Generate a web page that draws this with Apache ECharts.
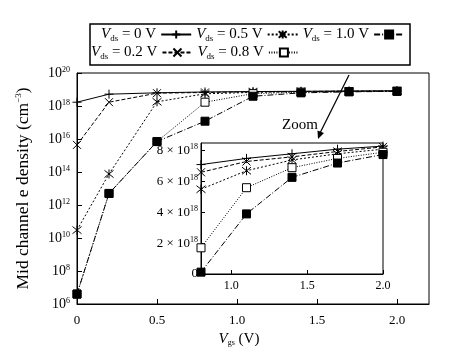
<!DOCTYPE html>
<html>
<head>
<meta charset="utf-8">
<script src="https://cdn.jsdelivr.net/npm/echarts@6/dist/echarts.min.js"></script>
<style>
html, body {margin: 0; padding: 0; background: #fff;}
#main {width: 456px; height: 353px;}
</style>
</head>
<body>
<div id="main"></div>
<script>
// gate voltage sweep (V)
const vgs = [0, 0.2, 0.5, 0.8, 1.1, 1.4, 1.7, 2.0];
// mid channel electron density (cm^-3), one list per drain voltage
const vds0 = [1.7e18, 5.2e18, 6.3e18, 7.1e18, 7.5e18, 7.8e18, 8.1e18, 8.3e18];
const vds02 = [4.4e15, 1.7e18, 6.0e18, 6.6e18, 7.3e18, 7.6e18, 7.95e18, 8.25e18];
const vds05 = [3e10, 7.6e13, 1.8e18, 5.5e18, 6.7e18, 7.4e18, 7.8e18, 8.1e18];
const vds08 = [4e6, 5e12, 7e15, 1.7e18, 5.6e18, 6.9e18, 7.5e18, 7.9e18];
const vds10 = [4e6, 5e12, 7e15, 1.2e17, 3.9e18, 6.27e18, 7.2e18, 7.75e18];
const vdsLabels = ['0', '0.2', '0.5', '0.8', '1.0'];
const insetFrom = 3; // zoomed part starts at vgs = 0.8
const insetTicks = [1.0, 1.5, 2.0];

const FONT = 'Liberation Serif';
const sup = {fontSize: 8, fontFamily: FONT, padding: [0, 0, 7, 0]};

const looks = [
    {symbol: 'path://M0,5L10,5M5,0L5,10', size: 9, type: 'solid', fill: '#000'},
    {symbol: 'path://M0,0L10,10M10,0L0,10', size: 8, type: [4, 2], fill: '#000'},
    {symbol: 'path://M1,1L9,9M9,1L1,9M5,0L5,10', size: 9, type: [2, 2], fill: '#000'},
    {symbol: 'rect', size: 8, type: [1, 1.5], fill: '#fff'},
    {symbol: 'rect', size: 8, type: [6, 2, 1, 2], fill: '#000'}
];
const allData = [vds0, vds02, vds05, vds08, vds10];

const series = [];
allData.forEach(function (vals, i) {
    const lk = looks[i];
    const base = {
        name: vdsLabels[i],
        type: 'line',
        symbol: lk.symbol,
        symbolSize: lk.size,
        lineStyle: {color: '#000', width: 1, type: lk.type},
        itemStyle: {color: lk.fill, borderColor: '#000', borderWidth: 1},
        animation: false
    };
    series.push(Object.assign({}, base, {
        xAxisIndex: 0, yAxisIndex: 0, z: 2 + i,
        data: vgs.map((x, k) => [x, vals[k]])
    }));
    series.push(Object.assign({}, base, {
        xAxisIndex: 1, yAxisIndex: 1, z: 20 + i,
        data: vgs.slice(insetFrom).map((x, k) => [x, vals[k + insetFrom]])
    }));
});

const legendText = {
    fontFamily: FONT, fontSize: 15, color: '#000',
    rich: {
        v: {fontFamily: FONT, fontSize: 15, fontStyle: 'italic'},
        s: {fontFamily: FONT, fontSize: 9, padding: [8, 0, 0, 0]},
        t: {fontFamily: FONT, fontSize: 15}
    }
};
function legendFmt(name) {
    return '{v|V}{s|ds}{t| = ' + name + ' V}';
}
const legendBase = {
    align: 'right', orient: 'horizontal', itemWidth: 30, itemHeight: 10,
    itemGap: 4, formatter: legendFmt, textStyle: legendText,
    selectedMode: false, padding: 0
};

const axisBlack = {lineStyle: {color: '#000', width: 1}};

const option = {
    backgroundColor: '#fff',
    textStyle: {fontFamily: FONT, color: '#000'},
    legend: [
        Object.assign({}, legendBase, {left: 101, top: 27, data: ['0', '0.5', '1.0']}),
        Object.assign({}, legendBase, {left: 91, top: 45, data: ['0.2', '0.8']})
    ],
    grid: [
        {left: 77, right: 27, top: 73, bottom: 49, show: true, borderColor: '#000', borderWidth: 1, backgroundColor: '#fff'},
        {left: 201, right: 73, top: 143, bottom: 79, show: true, borderColor: '#000', borderWidth: 1, backgroundColor: '#fff', z: 10}
    ],
    xAxis: [
        {
            gridIndex: 0, type: 'value', min: 0, max: 2.2, interval: 0.5,
            axisLine: axisBlack,
            axisTick: {inside: true, length: 5, lineStyle: {color: '#000'}},
            splitLine: {show: false},
            axisLabel: {
                fontFamily: FONT, fontSize: 13, color: '#000', margin: 10, showMaxLabel: false,
                formatter: v => (v === 0 ? '0' : v.toFixed(1))
            },
            name: '{v|V}{s|gs} (V)', nameLocation: 'middle', nameGap: 26,
            nameTextStyle: {
                fontFamily: FONT, fontSize: 15, color: '#000', padding: [0, 28, 0, 0],
                rich: {
                    v: {fontFamily: FONT, fontSize: 15, fontStyle: 'italic'},
                    s: {fontFamily: FONT, fontSize: 8, padding: [8, 0, 0, 0]}
                }
            }
        },
        {
            gridIndex: 1, type: 'value', min: 0.8, max: 2.0, z: 11,
            axisLine: axisBlack,
            axisTick: {inside: true, length: 4, customValues: insetTicks, lineStyle: {color: '#000'}},
            splitLine: {show: false},
            axisLabel: {
                fontFamily: FONT, fontSize: 12, color: '#000', margin: 6, customValues: insetTicks,
                formatter: v => v.toFixed(1)
            }
        }
    ],
    yAxis: [
        {
            gridIndex: 0, type: 'log', logBase: 100, min: 1e6, max: 1e20,
            axisLine: axisBlack,
            axisTick: {inside: true, length: 5, lineStyle: {color: '#000'}},
            minorTick: {show: false},
            splitLine: {show: false},
            axisLabel: {
                fontFamily: FONT, fontSize: 14, color: '#000', margin: 7,
                formatter: v => '10{sup|' + Math.round(Math.log10(v)) + '}',
                rich: {sup: sup}
            },
            name: 'Mid channel e density (cm{sup|\u22123})', nameLocation: 'middle', nameRotate: 90, nameGap: 45,
            nameTextStyle: {fontFamily: FONT, fontSize: 17.5, color: '#000', rich: {sup: {fontSize: 9, fontFamily: FONT, padding: [0, 0, 8, 0]}}}
        },
        {
            gridIndex: 1, type: 'value', min: 0, max: 8.5e18, interval: 2e18, z: 11,
            axisLine: axisBlack,
            axisTick: {inside: true, length: 4, lineStyle: {color: '#000'}},
            splitLine: {show: false},
            axisLabel: {
                fontFamily: FONT, fontSize: 13, color: '#000', margin: 3, showMaxLabel: false,
                formatter: v => (v === 0 ? '0' : Math.round(v / 1e18) + ' \u00d7 10{sup|18}'),
                rich: {sup: sup}
            }
        }
    ],
    graphic: [
        {type: 'rect', shape: {x: 90, y: 24, width: 320, height: 41}, style: {fill: 'none', stroke: '#000', lineWidth: 1.5}, z: 1},
        {type: 'text', left: 282, top: 118, style: {text: 'Zoom', font: '15px "Liberation Serif"', fill: '#000'}, z: 20},
        {type: 'line', shape: {x1: 349, y1: 75, x2: 320, y2: 133}, style: {stroke: '#000', lineWidth: 1.2}, z: 20},
        {type: 'polygon', shape: {points: [[318, 139], [324, 133], [317.5, 130.5]]}, style: {fill: '#000'}, z: 20}
    ],
    series: series
};

const myChart = echarts.init(document.getElementById('main'), null, {renderer: 'canvas'});
myChart.setOption(option);
</script>
</body>
</html>
